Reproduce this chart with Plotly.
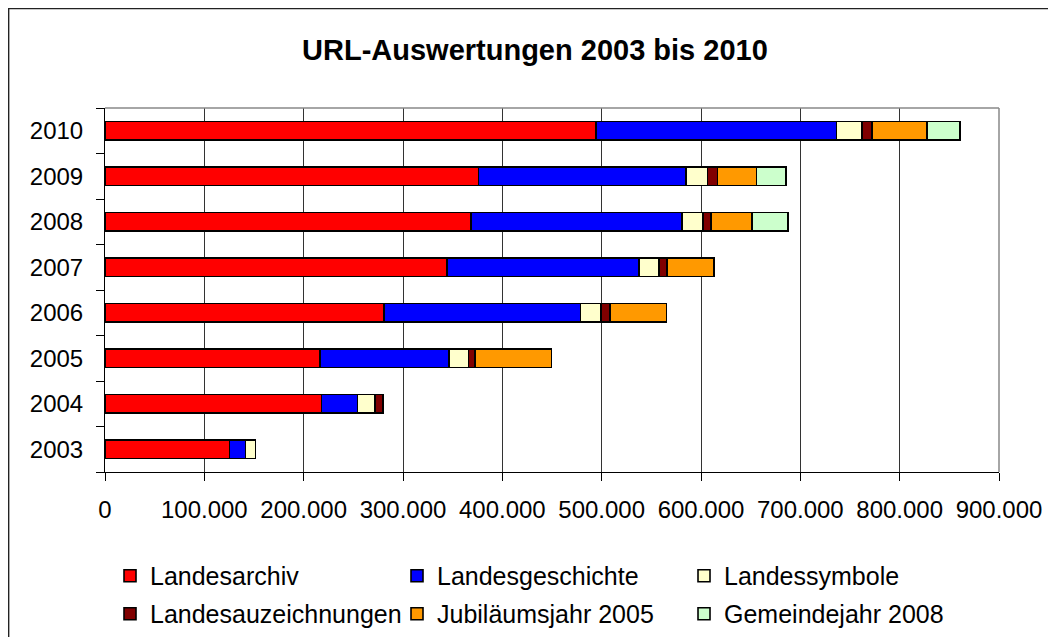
import plotly.graph_objects as go

years = ["2003", "2004", "2005", "2006", "2007", "2008", "2009", "2010"]

landesarchiv = [125500, 218000, 216500, 281000, 344500, 368500, 376000, 494500]
landesgeschichte = [15800, 36000, 130000, 197500, 193000, 212500, 209000, 242000]
landessymbole = [10400, 18000, 19500, 21000, 20000, 21000, 21500, 25800]
landesauszeichnungen = [0, 7600, 6500, 8800, 8000, 8300, 10000, 9700]
jubilaeumsjahr = [0, 0, 77000, 57000, 47300, 41300, 39300, 55400]
gemeindejahr = [0, 0, 0, 0, 0, 36000, 29900, 33600]

series_names = ["Landesarchiv", "Landesgeschichte", "Landessymbole",
                "Landesauzeichnungen", "Jubiläumsjahr 2005", "Gemeindejahr 2008"]
series_values = [landesarchiv, landesgeschichte, landessymbole,
                 landesauszeichnungen, jubilaeumsjahr, gemeindejahr]
series_colors = ["#FF0000", "#0000FF", "#FFFFCC", "#800000", "#FF9900", "#CCFFCC"]
legend_rows = ["legend", "legend", "legend", "legend2", "legend2", "legend2"]

x_ticks = list(range(0, 900001, 100000))

FONT = "Liberation Sans, Arial, sans-serif"

fig = go.Figure()
for name, vals, col, lg in zip(series_names, series_values, series_colors, legend_rows):
    fig.add_trace(go.Bar(
        y=years, x=vals, name=name, orientation="h", legend=lg,
        marker=dict(color=col, line=dict(color="black", width=1.6)),
    ))

legend_common = dict(orientation="h", x=0.0056, xanchor="left", yanchor="middle",
                      traceorder="normal", entrywidth=242, entrywidthmode="pixels",
                      font=dict(size=25, family=FONT, color="black"), itemwidth=30,
                      bgcolor="rgba(0,0,0,0)")

fig.update_layout(
    barmode="stack",
    bargap=0.6,
    width=1056, height=637,
    margin=dict(l=97, r=65, t=100, b=173, autoexpand=False),
    paper_bgcolor="white", plot_bgcolor="white",
    separators=",.",
    font=dict(family=FONT, size=24, color="black"),
    title=dict(text="<b>URL-Auswertungen 2003 bis 2010</b>",
               x=0.499, xref="container", xanchor="center",
               y=0.934, yref="container", yanchor="middle",
               font=dict(size=29, family=FONT, color="black")),
    legend=dict(y=-0.2857, **legend_common),
    legend2=dict(y=-0.3901, **legend_common),
    showlegend=True,
)

fig.update_xaxes(
    range=[0, 900000], tickvals=x_ticks, tickformat=",d",
    showgrid=True, gridcolor="#333333", gridwidth=1,
    showline=True, linecolor="black", linewidth=1,
    ticks="outside", ticklen=8, tickcolor="black",
    ticklabelstandoff=8, zeroline=False,
)
fig.update_yaxes(
    type="category", categoryorder="array", categoryarray=years,
    showline=True, linecolor="black", linewidth=1,
    ticks="outside", tickson="boundaries", ticklen=8, tickcolor="black",
    ticklabelstandoff=16, showgrid=False,
)

fig.add_shape(type="line", xref="paper", yref="paper", x0=0, x1=1, y0=1, y1=1,
              line=dict(color="#888888", width=1.5))
fig.add_shape(type="line", xref="paper", yref="paper", x0=1, x1=1, y0=0, y1=1,
              line=dict(color="#888888", width=1.5))
fig.add_shape(type="rect", xref="paper", yref="paper",
              x0=-0.1078, x1=1.3, y0=-0.6, y1=1.2733,
              line=dict(color="#222222", width=1.5), layer="below")

fig.write_html("out.html")
